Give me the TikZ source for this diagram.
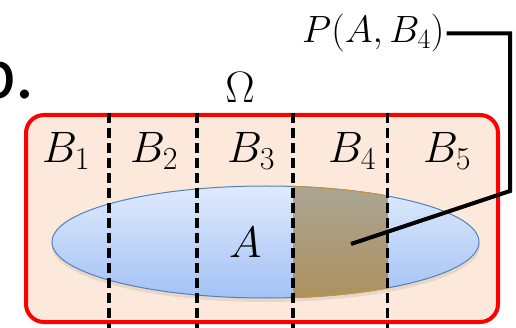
\RequirePackage{fix-cm}
\documentclass[tikz,border=0pt]{standalone}
\usepackage{fontspec}
\usepackage{tikz}
\newfontfamily\panelfont{Carlito}
\usetikzlibrary{positioning}
\newcommand\lsub[2]{_{\hbox{\fontsize{#1}{#1}\selectfont #2}}}

\definecolor{omegafill}{HTML}{FCE9DB}
\definecolor{omegaline}{HTML}{FF0000}
\definecolor{atop}{HTML}{DFEAFC}
\definecolor{abottom}{HTML}{A3C2F5}
\definecolor{aline}{HTML}{4F81BD}
\definecolor{jointop}{HTML}{ABA595}
\definecolor{joinbottom}{HTML}{AD915E}
\definecolor{joinline}{HTML}{C0924A}

\begin{document}
\begin{tikzpicture}[x=1pt, y=-1pt,
  setlabel/.style={font=\fontsize{44}{48}\selectfont, inner sep=0pt, anchor=base west},
  cutline/.style={line width=3.5pt, dash pattern=on 10pt off 5pt},
  pointer/.style={line width=4pt, line join=miter}]
\useasboundingbox (0,0) rectangle (516,328);

% panel letter, cut at the left edge
\node[font=\panelfont\fontsize{75}{80}\selectfont, inner sep=0pt, anchor=base west] (panel) at (-24,99) {b.};

% sample space
\draw[omegaline, fill=omegafill, line width=4pt, rounded corners=18pt] (26,115) rectangle (498,322);
\node[setlabel, anchor=base] (omega) at (240,103) {$\Omega$};

% event A with its shadow
\fill[black, opacity=0.08] (266,246) ellipse [x radius=214, y radius=56];
\shade[top color=atop, bottom color=abottom] (265.5,242) ellipse [x radius=213.5, y radius=56];
\draw[aline, line width=1pt] (265.5,242) ellipse [x radius=213.5, y radius=56];

% the part of A inside B4
\begin{scope}
  \clip (293,150) rectangle (387.5,310);
  \shade[top color=jointop, bottom color=joinbottom] (265.5,242) ellipse [x radius=213.5, y radius=56];
  \draw[joinline, line width=1.2pt] (265.5,242) ellipse [x radius=213.5, y radius=56];
\end{scope}

% partition of Omega
\foreach \cx in {109,197,293,387.5}
  \draw[cutline] (\cx,113) -- (\cx,330);

% labels
\node[setlabel] (b1) at (42,163) {$B\lsub{32}{1}$};
\node[setlabel] (b2) at (130,163) {$B\lsub{32}{2}$};
\node[setlabel] (b3) at (227,163) {$B\lsub{32}{3}$};
\node[setlabel] (b4) at (328,163) {$B\lsub{32}{4}$};
\node[setlabel] (b5) at (423,163) {$B\lsub{32}{5}$};
\node[setlabel] (a) at (229,258) {$A$};

% joint probability pointer
\node[font=\fontsize{38}{42}\selectfont, inner sep=0pt, anchor=base west] (joint) at (302,43) {$P(A,B\lsub{28}{4})$};
\coordinate (tip) at (351,244);
\draw[pointer] ([xshift=2pt]joint.east) -| (510,191) -- (tip);
\end{tikzpicture}
\end{document}
